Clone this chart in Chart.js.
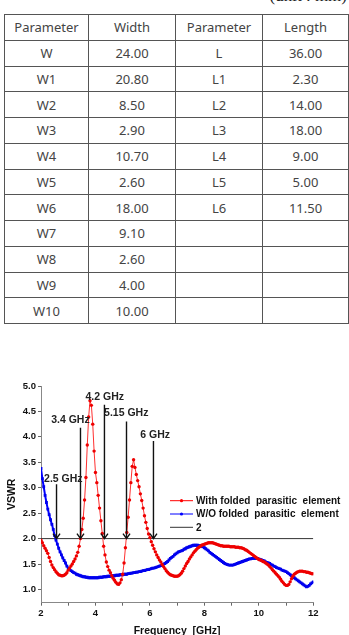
<!DOCTYPE html>
<html>
<head>
<meta charset="utf-8">
<script src="https://cdn.jsdelivr.net/npm/chart.js@4.4.1/dist/chart.umd.min.js"></script>
<style>
  html, body { margin:0; padding:0; background:#fff; width:349px; height:635px; overflow:hidden; position:relative; }
  #unit { position:absolute; right:2px; top:-13px; font-family:"Liberation Serif", serif; font-size:17px; line-height:17px; color:#222; white-space:pre; }
  table { position:absolute; left:4px; top:14px; border-collapse:collapse; table-layout:fixed; width:344px; }
  td { border:1px solid #555; height:24.75px; padding:0; text-align:center; font-family:"Noto Sans", sans-serif; font-size:13px; color:#444; }
  #wrap { position:absolute; left:0; top:370px; width:349px; height:267px; }
</style>
</head>
<body>
<div id="unit">(unit : mm)</div>
<table id="tbl">
  <colgroup><col style="width:84px"><col style="width:87px"><col style="width:87px"><col style="width:86px"></colgroup>
  <tbody id="tbody"></tbody>
</table>
<div id="wrap"><canvas id="c" width="349" height="267"></canvas></div>
<script>
// ---- table data ----
const tableHeader = ["Parameter", "Width", "Parameter", "Length"];
const widthParams = ["W","W1","W2","W3","W4","W5","W6","W7","W8","W9","W10"];
const widthValues = ["24.00","20.80","8.50","2.90","10.70","2.60","18.00","9.10","2.60","4.00","10.00"];
const lengthParams = ["L","L1","L2","L3","L4","L5","L6"];
const lengthValues = ["36.00","2.30","14.00","18.00","9.00","5.00","11.50"];

// ---- chart data ----
const freqStart = 2, freqStep = 0.05;
const vswrWith = [
  1.97,1.92,1.86,1.81,1.76,1.71,1.63,1.55,1.48,1.43,1.39,1.35,1.32,1.29,1.28,1.27,1.27,1.28,1.30,1.33,
  1.38,1.42,1.46,1.50,1.55,1.60,1.66,1.73,1.85,2.00,2.18,2.40,2.76,3.20,3.84,4.39,4.71,4.62,4.25,3.72,
  3.30,3.10,2.85,2.60,2.35,2.10,1.85,1.68,1.54,1.45,1.38,1.33,1.27,1.22,1.18,1.14,1.11,1.10,1.13,1.19,
  1.30,1.52,1.82,2.12,2.42,2.76,3.10,3.42,3.55,3.40,3.26,3.14,3.02,2.88,2.75,2.60,2.45,2.32,2.20,2.09,
  2.02,1.94,1.87,1.80,1.74,1.68,1.63,1.58,1.54,1.49,1.45,1.41,1.37,1.34,1.31,1.29,1.28,1.27,1.26,1.26,
  1.26,1.27,1.29,1.32,1.36,1.41,1.46,1.51,1.55,1.60,1.64,1.68,1.72,1.75,1.78,1.81,1.83,1.85,1.87,1.88,
  1.89,1.90,1.91,1.92,1.92,1.92,1.92,1.91,1.90,1.89,1.88,1.87,1.86,1.86,1.85,1.85,1.85,1.85,1.85,1.84,
  1.84,1.84,1.84,1.83,1.83,1.83,1.82,1.82,1.81,1.80,1.78,1.77,1.75,1.73,1.71,1.69,1.67,1.65,1.63,1.61,
  1.59,1.58,1.57,1.55,1.54,1.52,1.50,1.48,1.45,1.42,1.39,1.36,1.33,1.30,1.27,1.24,1.20,1.16,1.13,1.10,
  1.08,1.08,1.10,1.15,1.21,1.26,1.30,1.32,1.34,1.35,1.36,1.36,1.36,1.35,1.35,1.34,1.34,1.33,1.32,1.31,
  1.31
];
const vswrWithout = [
  3.38,3.18,3.02,2.85,2.71,2.58,2.47,2.37,2.28,2.18,2.06,1.97,1.89,1.81,1.74,1.68,1.62,1.57,1.52,1.46,
  1.42,1.39,1.37,1.35,1.33,1.32,1.30,1.29,1.28,1.27,1.26,1.25,1.25,1.24,1.24,1.23,1.23,1.23,1.23,1.23,
  1.23,1.23,1.23,1.24,1.24,1.24,1.25,1.25,1.25,1.26,1.26,1.26,1.27,1.27,1.27,1.28,1.28,1.28,1.29,1.29,
  1.29,1.30,1.30,1.30,1.31,1.31,1.32,1.32,1.33,1.33,1.34,1.34,1.35,1.35,1.36,1.37,1.37,1.38,1.39,1.39,
  1.40,1.41,1.42,1.42,1.43,1.44,1.45,1.46,1.47,1.48,1.50,1.51,1.53,1.55,1.58,1.61,1.63,1.65,1.68,1.70,
  1.72,1.74,1.75,1.76,1.77,1.79,1.80,1.82,1.83,1.84,1.85,1.86,1.87,1.87,1.87,1.87,1.86,1.86,1.85,1.84,
  1.82,1.80,1.78,1.76,1.73,1.71,1.69,1.67,1.65,1.63,1.61,1.59,1.57,1.55,1.53,1.51,1.50,1.49,1.48,1.48,
  1.48,1.48,1.49,1.50,1.51,1.52,1.53,1.54,1.55,1.56,1.57,1.58,1.59,1.60,1.60,1.61,1.61,1.61,1.61,1.61,
  1.60,1.59,1.58,1.57,1.56,1.54,1.53,1.52,1.51,1.49,1.48,1.46,1.45,1.43,1.42,1.41,1.40,1.38,1.37,1.36,
  1.35,1.33,1.31,1.29,1.27,1.25,1.23,1.21,1.19,1.17,1.15,1.13,1.11,1.09,1.07,1.05,1.06,1.08,1.11,1.13,
  1.15
];
const refLevel = 2;
const xTickValues = [2,3,4,5,6,7,8,9,10,11,12];
const yTickValues = [1.0,1.5,2.0,2.5,3.0,3.5,4.0,4.5,5.0];
const legendLabels = ["With folded  parasitic  element", "W/O folded  parasitic  element", "2"];
// arrows: frequency where the arrow points (at VSWR = 2), top of the arrow shaft
const arrowFreq = [2.57, 3.45, 4.33, 5.14, 6.13];
const arrowTop  = [3.07, 4.18, 4.63, 4.30, 3.92];
const arrowText = ["2.5 GHz", "3.4 GHz", "4.2 GHz", "5.15 GHz", "6 GHz"];
const arrowTextX = [2.82, 3.08, 4.34, 5.13, 6.19];
const arrowTextY = [3.17, 4.32, 4.79, 4.46, 4.04];

// ---- build table ----
(function(){
  const tb = document.getElementById('tbody');
  let html = '<tr>' + tableHeader.map(h => '<td>' + h + '</td>').join('') + '</tr>';
  for (let i = 0; i < widthParams.length; i++) {
    html += '<tr><td>' + widthParams[i] + '</td><td>' + widthValues[i] + '</td><td>' +
      (lengthParams[i] || '') + '</td><td>' + (lengthValues[i] || '') + '</td></tr>';
  }
  tb.innerHTML = html;
})();

// ---- chart ----
const toXY = arr => arr.map((v, i) => ({x: +(freqStart + i * freqStep).toFixed(2), y: v}));

const overlayPlugin = {
  id: 'overlay',
  afterDatasetsDraw(chart) {
    const ctx = chart.ctx, xs = chart.scales.x, ys = chart.scales.y;
    ctx.save();
    // arrows
    ctx.strokeStyle = '#111';
    ctx.lineWidth = 1.4;
    for (let i = 0; i < arrowFreq.length; i++) {
      const px = xs.getPixelForValue(arrowFreq[i]);
      const pTop = ys.getPixelForValue(arrowTop[i]);
      const pTip = ys.getPixelForValue(refLevel);
      ctx.beginPath();
      ctx.moveTo(px, pTop); ctx.lineTo(px, pTip);
      ctx.moveTo(px - 3.5, pTip - 5); ctx.lineTo(px, pTip); ctx.lineTo(px + 3.5, pTip - 5);
      ctx.stroke();
    }
    ctx.fillStyle = '#222';
    ctx.font = 'bold 10.5px "Liberation Sans", Arial, sans-serif';
    ctx.textAlign = 'center';
    ctx.textBaseline = 'middle';
    for (let i = 0; i < arrowText.length; i++) {
      ctx.fillText(arrowText[i], xs.getPixelForValue(arrowTextX[i]), ys.getPixelForValue(arrowTextY[i]));
    }
    // legend
    const lx = 170, ly = [130.7, 144, 157.3];
    const cols = ['#ff0000', '#0000ff', '#333'];
    ctx.font = 'bold 10px "Liberation Sans", Arial, sans-serif';
    ctx.textAlign = 'left';
    for (let i = 0; i < 3; i++) {
      ctx.strokeStyle = cols[i];
      ctx.lineWidth = 1;
      ctx.beginPath(); ctx.moveTo(lx, ly[i]); ctx.lineTo(lx + 23, ly[i]); ctx.stroke();
      if (i < 2) {
        ctx.fillStyle = cols[i];
        ctx.beginPath(); ctx.arc(lx + 11.5, ly[i], 1.6, 0, Math.PI * 2); ctx.fill();
      }
      ctx.fillStyle = '#111';
      ctx.fillText(legendLabels[i], lx + 26, ly[i] + 0.5);
    }
    ctx.restore();
  }
};

new Chart(document.getElementById('c'), {
  type: 'line',
  data: {
    datasets: [
      {
        label: legendLabels[0],
        data: toXY(vswrWith),
        borderColor: '#ff3030',
        borderWidth: 1,
        backgroundColor: '#ee0000',
        pointBackgroundColor: '#ee0000',
        pointBorderWidth: 0,
        pointRadius: 1.7,
        pointStyle: 'circle',
        tension: 0
      },
      {
        label: legendLabels[1],
        data: toXY(vswrWithout),
        borderColor: '#0000ff',
        borderWidth: 2,
        backgroundColor: '#0000ee',
        pointBackgroundColor: '#0000ee',
        pointBorderWidth: 0,
        pointRadius: 2,
        pointStyle: 'rect',
        tension: 0
      },
      {
        label: legendLabels[2],
        data: [{x: xTickValues[0], y: refLevel}, {x: xTickValues[xTickValues.length - 1], y: refLevel}],
        borderColor: '#333',
        borderWidth: 1,
        pointRadius: 0
      }
    ]
  },
  options: {
    responsive: false,
    animation: false,
    devicePixelRatio: 1,
    layout: { padding: { left: 0, right: 35.7, top: 16, bottom: 0 } },
    plugins: { legend: { display: false }, tooltip: { enabled: false } },
    scales: {
      x: {
        type: 'linear',
        min: 2, max: 12,
        afterFit(s) { s.height = 34.3; },
        afterBuildTicks(s) { s.ticks = xTickValues.map(v => ({value: v})); },
        ticks: {
          callback: v => (v % 2 === 0 ? String(v) : ''),
          font: { family: '"Liberation Sans", Arial, sans-serif', size: 9.5, weight: 'bold' },
          color: '#111',
          padding: 2,
          maxRotation: 0,
          autoSkip: false
        },
        grid: { drawOnChartArea: false, drawTicks: true, tickLength: 3, color: '#888', tickColor: '#666' },
        border: { display: true, color: '#888', width: 1 },
        title: {
          display: true,
          text: 'Frequency  [GHz]',
          font: { family: '"Liberation Sans", Arial, sans-serif', size: 10.5, weight: 'bold' },
          color: '#111',
          padding: { top: 0, bottom: 0 }
        }
      },
      y: {
        type: 'linear',
        min: 0.74, max: 5.0,
        afterFit(s) { s.width = 41; },
        afterBuildTicks(s) { s.ticks = yTickValues.map(v => ({value: v})); },
        ticks: {
          callback: v => Number(v).toFixed(1),
          font: { family: '"Liberation Sans", Arial, sans-serif', size: 9.5, weight: 'bold' },
          color: '#111',
          padding: 2,
          autoSkip: false
        },
        grid: { drawOnChartArea: false, drawTicks: true, tickLength: 3, color: '#888', tickColor: '#666' },
        border: { display: true, color: '#888', width: 1 },
        title: {
          display: true,
          text: 'VSWR',
          font: { family: '"Liberation Sans", Arial, sans-serif', size: 10.5, weight: 'bold' },
          color: '#111',
          padding: { top: 6, bottom: 0 }
        }
      }
    }
  },
  plugins: [overlayPlugin]
});
</script>
</body>
</html>
